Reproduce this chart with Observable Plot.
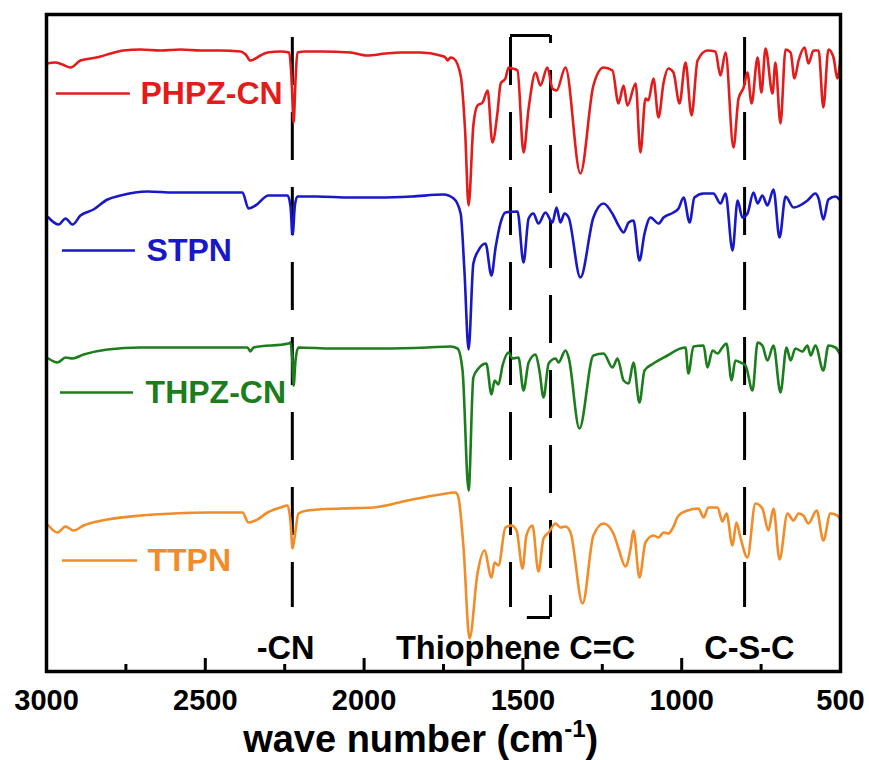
<!DOCTYPE html>
<html>
<head>
<meta charset="utf-8">
<script src="https://cdn.jsdelivr.net/npm/d3@7"></script>
<script src="https://cdn.jsdelivr.net/npm/@observablehq/plot@0.6"></script>
<style>
  body { margin: 0; background: #fff; }
  #chart svg { display: block; }
</style>
</head>
<body>
<div id="chart"></div>
<script>
// ---- Data: [wave number (cm^-1), transmittance (a.u., stacked)] ----
const phpzCN = [
  [3000,608],[2972,609],[2950,607],[2924,604],[2893,611],[2861,613],[2830,615],[2798,618],[2758,621],[2704,622],
  [2641,621],[2578,622],[2515,621],[2452,621],[2389,620],[2373,617],[2358,611],[2342,613],[2326,616],[2304,619],
  [2263,620],[2236,619],[2228,591],[2222,549],[2216,591],[2210,619],[2185,620],[2137,620],[2043,619],[1990,616],
  [1933,618],[1885,619],[1822,619],[1760,616],[1744,614],[1737,611],[1728,614],[1718,613],[1696,596],[1682,541],
  [1671,466],[1656,546],[1643,566],[1627,569],[1611,581],[1596,529],[1580,559],[1570,588],[1555,593],[1545,604],
  [1533,603],[1517,601],[1498,519],[1482,563],[1460,599],[1445,586],[1423,604],[1407,583],[1394,581],[1366,604],
  [1319,498],[1278,586],[1246,604],[1218,601],[1199,568],[1183,586],[1171,566],[1145,588],[1130,519],[1114,573],
  [1105,571],[1089,593],[1073,554],[1057,589],[1042,603],[1026,599],[1007,568],[988,609],[969,556],[950,611],
  [919,621],[894,620],[878,596],[862,619],[837,524],[821,573],[805,584],[793,599],[780,568],[761,614],
  [749,579],[736,623],[714,578],[705,609],[689,548],[673,622],[657,619],[645,593],[632,611],[613,624],
  [601,608],[585,621],[569,621],[554,564],[538,622],[522,614],[510,593],[500,614]
];
const stpn = [
  [2994,454],[2962,447],[2940,453],[2918,447],[2893,456],[2852,462],[2808,472],[2767,476],[2682,480],[2600,479],
  [2493,479],[2383,479],[2364,463],[2342,466],[2301,476],[2241,476],[2232,466],[2225,437],[2218,466],[2210,475],
  [2150,475],[2043,474],[1950,474],[1850,475],[1750,477],[1718,473],[1696,458],[1684,400],[1671,322],[1656,408],
  [1640,421],[1618,428],[1599,396],[1586,424],[1570,449],[1555,459],[1517,460],[1498,409],[1482,453],[1467,458],
  [1451,448],[1429,459],[1407,449],[1394,464],[1382,449],[1369,458],[1356,454],[1319,394],[1278,454],[1246,468],
  [1215,456],[1199,446],[1183,439],[1167,449],[1152,451],[1133,411],[1117,438],[1098,454],[1073,448],[1057,454],
  [1026,459],[1010,463],[994,474],[975,449],[960,474],[931,478],[900,478],[878,468],[862,478],[840,421],
  [824,471],[809,454],[793,458],[774,479],[761,468],[746,476],[730,466],[711,482],[692,434],[673,475],
  [648,464],[604,471],[579,478],[569,473],[554,452],[538,472],[516,475],[503,472]
];
const thpzCN = [
  [2994,313],[2965,309],[2940,314],[2918,313],[2883,317],[2808,322],[2704,324],[2600,324],[2493,324],[2367,324],
  [2358,320],[2348,324],[2238,328],[2232,329],[2226,311],[2222,286],[2216,311],[2207,324],[2100,323],[1950,323],
  [1800,324],[1728,325],[1706,323],[1690,301],[1671,181],[1656,294],[1640,303],[1615,308],[1599,277],[1589,291],
  [1577,287],[1564,306],[1545,319],[1533,313],[1514,314],[1498,281],[1482,309],[1460,317],[1448,301],[1435,274],
  [1419,308],[1397,313],[1388,309],[1366,321],[1356,314],[1322,243],[1278,316],[1246,318],[1218,304],[1202,313],
  [1183,291],[1167,288],[1152,309],[1133,269],[1117,301],[1089,308],[1045,316],[1004,323],[988,324],[979,298],
  [963,325],[931,326],[919,304],[903,321],[887,318],[872,324],[859,328],[843,291],[831,311],[815,309],
  [799,306],[777,281],[761,329],[746,326],[730,311],[711,326],[689,279],[670,324],[657,311],[642,323],
  [620,320],[604,326],[594,316],[579,326],[554,301],[538,326],[516,324],[503,318]
];
const ttpn = [
  [2994,146],[2965,139],[2940,145],[2915,141],[2883,146],[2808,152],[2704,156],[2600,158],[2493,159],[2383,159],
  [2364,149],[2336,152],[2304,159],[2263,164],[2241,166],[2232,151],[2225,123],[2216,141],[2207,158],[2178,161],
  [2074,163],[1970,164],[1863,171],[1760,177],[1712,179],[1703,174],[1687,124],[1668,33],[1643,98],[1621,121],
  [1599,94],[1589,109],[1577,106],[1555,144],[1536,146],[1520,141],[1501,103],[1489,136],[1470,146],[1451,100],
  [1435,133],[1419,139],[1397,148],[1382,144],[1366,145],[1350,139],[1312,68],[1278,136],[1246,148],[1215,138],
  [1199,123],[1177,105],[1161,123],[1152,141],[1133,94],[1114,129],[1089,136],[1073,134],[1057,139],[1042,138],
  [1029,143],[1010,156],[982,161],[947,163],[931,154],[916,164],[887,164],[872,150],[859,158],[840,126],
  [828,149],[815,134],[793,114],[768,168],[746,163],[727,141],[711,163],[692,112],[667,158],[648,151],
  [632,158],[617,156],[601,148],[575,161],[554,131],[532,158],[510,156],[503,153]
];

const seriesNames = ["PHPZ-CN", "STPN", "THPZ-CN", "TTPN"];
const seriesData = [phpzCN, stpn, thpzCN, ttpn];
const seriesColors = ["#e41b1b", "#1818c8", "#1c7d1c", "#f28c28"];

// Axis ticks
const majorTicks = [3000, 2500, 2000, 1500, 1000, 500];
const minorTicks = [2750, 2250, 1750, 1250, 750];

// Band markers (cm^-1)
const bandLines = [2226, 1539, 802];
const bracketRight = 1413;
const bracketBottomLeft = 1486;
const bandLabels = ["-CN", "Thiophene C=C", "C-S-C"];
const bandLabelX = [2247, 1523, 787];

// ---- Layout constants (annotation placement, in data units) ----
const legendLineX1 = [2969, 2950, 2956, 2950];
const legendLineX2 = [2736, 2720, 2726, 2713];
const legendTextX = [2704, 2685, 2688, 2682];
const legendY = [578, 421, 279, 111];

const rows = seriesData.flatMap((arr, i) => arr.map(([wn, t]) => ({series: seriesNames[i], wn, t})));
const legend = seriesNames.map((s, i) => ({series: s, x1: legendLineX1[i], x2: legendLineX2[i], tx: legendTextX[i], y: legendY[i]}));

const FONT = "'Liberation Sans', Arial, Helvetica, sans-serif";

const plot = Plot.plot({
  width: 869,
  height: 760,
  marginLeft: 46,
  marginRight: 29,
  marginTop: 14,
  marginBottom: 89,
  style: {fontFamily: FONT, background: "#fff"},
  x: {domain: [3000, 500]},
  y: {domain: [0, 657], axis: null},
  color: {domain: seriesNames, range: seriesColors},
  marks: [
    // dashed band markers
    Plot.ruleX(bandLines, {x: d => d, y1: 634, y2: 64, stroke: "#000", strokeWidth: 3, strokeDasharray: "48,27"}),
    Plot.ruleX([bracketRight], {x: d => d, y1: 636, y2: 54, stroke: "#000", strokeWidth: 3, strokeDasharray: "48,27", strokeDashoffset: 40}),
    Plot.ruleY([{y: 636, x1: bandLines[1], x2: bracketRight}, {y: 54, x1: bracketBottomLeft, x2: bracketRight}],
      {y: "y", x1: "x1", x2: "x2", stroke: "#000", strokeWidth: 3}),
    // spectra
    Plot.line(rows, {x: "wn", y: "t", z: "series", stroke: "series", strokeWidth: 2.6, curve: "monotone-x", strokeLinejoin: "round", strokeLinecap: "round"}),
    // legend
    Plot.ruleY(legend, {y: "y", x1: "x1", x2: "x2", stroke: "series", strokeWidth: 2.6}),
    Plot.text(legend, {x: "tx", y: "y", text: "series", fill: "series", textAnchor: "start", fontSize: 32, fontWeight: "bold"}),
    // band labels
    Plot.text(bandLabels, {x: (d, i) => bandLabelX[i], y: 23, text: d => d, fill: "#000", fontSize: 32.5, fontWeight: "bold"}),
    // inward ticks
    Plot.ruleX(majorTicks, {x: d => d, y1: 0, y2: 13, stroke: "#000", strokeWidth: 3}),
    Plot.ruleX(minorTicks, {x: d => d, y1: 0, y2: 7, stroke: "#000", strokeWidth: 3}),
    Plot.frame({stroke: "#000", strokeWidth: 3.5}),
    Plot.axisX({ticks: majorTicks, tickSize: 0, tickPadding: 18, tickFormat: d => String(d), fontSize: 29, fontWeight: "bold", label: null, fill: "#000"}),
    Plot.text(["wave number (cm-1)"], {x: 1822, y: -68, text: d => d, fontSize: 38, fontWeight: "bold", fill: "#000"})
  ]
});

// superscript for the axis label
const lab = [...plot.querySelectorAll("text")].find(t => t.textContent === "wave number (cm-1)");
if (lab) {
  const ns = "http://www.w3.org/2000/svg";
  lab.textContent = "";
  const t1 = document.createElementNS(ns, "tspan"); t1.textContent = "wave number (cm";
  const t2 = document.createElementNS(ns, "tspan"); t2.textContent = "-1";
  t2.setAttribute("font-size", "24"); t2.setAttribute("dy", "-15");
  const t3 = document.createElementNS(ns, "tspan"); t3.textContent = ")"; t3.setAttribute("dy", "15");
  lab.append(t1, t2, t3);
}

document.getElementById("chart").append(plot);
</script>
</body>
</html>
